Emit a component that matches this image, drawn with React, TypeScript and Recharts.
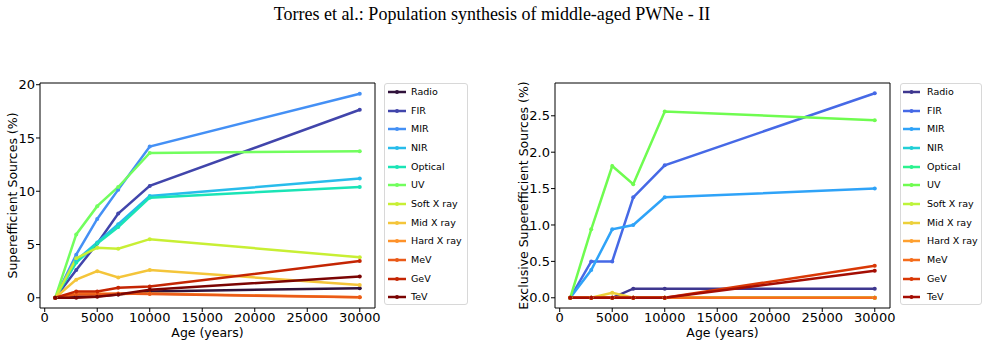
import React from "react";
import { LineChart, Line, XAxis, YAxis, ReferenceLine } from "recharts";

const ages = [1000, 3000, 5000, 7000, 10000, 30000];
const bands = [
	"Radio",
	"FIR",
	"MIR",
	"NIR",
	"Optical",
	"UV",
	"Soft X ray",
	"Mid X ray",
	"Hard X ray",
	"MeV",
	"GeV",
	"TeV",
];

// superefficient sources (%), left panel
const allRadio = [0, 0.1, 0.15, 0.3, 0.6, 0.9];
const allFIR = [0, 2.6, 5.1, 7.9, 10.5, 17.65];
const allMIR = [0, 4.05, 7.4, 10.15, 14.2, 19.15];
const allNIR = [0, 3.5, 5.2, 6.9, 9.55, 11.2];
const allOptical = [0, 3.3, 5.1, 6.65, 9.4, 10.4];
const allUV = [0, 5.95, 8.6, 10.4, 13.6, 13.75];
const allSoftX = [0, 3.7, 4.7, 4.6, 5.5, 3.8];
const allMidX = [0, 1.7, 2.5, 1.9, 2.6, 1.2];
const allHardX = [0, 0.4, 0.4, 0.35, 0.4, 0.05];
const allMeV = [0, 0.3, 0.3, 0.4, 0.35, 0.05];
const allGeV = [0, 0.6, 0.6, 0.95, 1.05, 3.45];
const allTeV = [0, 0, 0.1, 0.3, 0.75, 2.0];

// exclusive superefficient sources (%), right panel
const exRadio = [0, 0, 0, 0.125, 0.125, 0.125];
const exFIR = [0, 0.5, 0.5, 1.38, 1.82, 2.81];
const exMIR = [0, 0.38, 0.94, 1.0, 1.38, 1.5];
const exNIR = [0, 0, 0, 0, 0, 0];
const exOptical = [0, 0, 0, 0, 0, 0];
const exUV = [0, 0.94, 1.81, 1.56, 2.56, 2.44];
const exSoftX = [0, 0, 0, 0, 0, 0];
const exMidX = [0, 0, 0.07, 0, 0, 0];
const exHardX = [0, 0, 0, 0, 0, 0];
const exMeV = [0, 0, 0, 0, 0, 0];
const exGeV = [0, 0, 0, 0, 0, 0.44];
const exTeV = [0, 0, 0, 0, 0, 0.37];

const xTicks = [0, 5000, 10000, 15000, 20000, 25000, 30000];
const leftYTicks = [0, 5, 10, 15, 20];
const rightYTicks = [0, 0.5, 1, 1.5, 2, 2.5];

const leftColors = [
	"#30123b",
	"#4145ab",
	"#4490f5",
	"#28bceb",
	"#1ae4b6",
	"#72fe5e",
	"#c8ef34",
	"#f4c53a",
	"#fe922a",
	"#ea5a18",
	"#c42503",
	"#7a0403",
];
const rightColors = [
	"#3e378f",
	"#4669e6",
	"#2fa3f8",
	"#22cfd6",
	"#2bf28f",
	"#6ffc50",
	"#bdf43a",
	"#ecd03a",
	"#fea030",
	"#f56d1c",
	"#d93806",
	"#a40d03",
];

const allSeries = [
	allRadio,
	allFIR,
	allMIR,
	allNIR,
	allOptical,
	allUV,
	allSoftX,
	allMidX,
	allHardX,
	allMeV,
	allGeV,
	allTeV,
];
const exSeries = [
	exRadio,
	exFIR,
	exMIR,
	exNIR,
	exOptical,
	exUV,
	exSoftX,
	exMidX,
	exHardX,
	exMeV,
	exGeV,
	exTeV,
];

const buildRows = (series: number[][]) =>
	ages.map((age, i) => {
		const row: Record<string, number> = { age };
		bands.forEach((b, j) => {
			row[b] = series[j][i];
		});
		return row;
	});

const font = "'DejaVu Sans', sans-serif";
const xDomain: [number, number] = [-450, 31450];

const YLabel = (props: any) => {
	const { viewBox, text, dx } = props;
	const x = viewBox.x + dx;
	const y = viewBox.y + viewBox.height / 2;
	return (
		<text
			x={x}
			y={y}
			transform={`rotate(-90 ${x} ${y})`}
			textAnchor="middle"
			dominantBaseline="central"
			fontSize={12.5}
			fontFamily={font}
			fill="#000"
		>
			{text}
		</text>
	);
};

type PanelProps = {
	series: number[][];
	colors: string[];
	yDomain: [number, number];
	yTicks: number[];
	yFormat: (v: number) => string;
	yLabel: string;
	labelDx: number;
	left: number;
	marginLeft: number;
	yWidth: number;
	marginRight: number;
	legendLeft: number;
	legendWidth: number;
	lineStart: number;
	lineEnd: number;
};

const Panel = (p: PanelProps) => {
	const rows = buildRows(p.series);
	return (
		<div style={{ position: "absolute", left: p.left, top: 0 }}>
			<LineChart
				width={494}
				height={345}
				data={rows}
				margin={{ top: 83, right: p.marginRight, bottom: 7, left: p.marginLeft }}
			>
				<XAxis
					dataKey="age"
					type="number"
					domain={xDomain}
					ticks={xTicks}
					allowDataOverflow
					stroke="#000"
					tick={{ fill: "#000", fontSize: 13, fontFamily: font }}
					tickSize={4}
					tickMargin={1}
					height={30}
					label={{
						value: "Age (years)",
						position: "insideBottom",
						offset: 1,
						fill: "#000",
						fontSize: 12.5,
						fontFamily: font,
					}}
				/>
				<YAxis
					type="number"
					domain={p.yDomain}
					ticks={p.yTicks}
					allowDataOverflow
					tickFormatter={p.yFormat}
					stroke="#000"
					tick={{ fill: "#000", fontSize: 13, fontFamily: font }}
					tickSize={4}
					tickMargin={1}
					width={p.yWidth}
					label={<YLabel text={p.yLabel} dx={p.labelDx} />}
				/>
				{/* top and right frame of the axes box */}
				<ReferenceLine y={p.yDomain[1]} stroke="#000" strokeWidth={1} />
				<ReferenceLine x={xDomain[1]} stroke="#000" strokeWidth={1} />
				{bands.map((b, i) => (
					<Line
						key={b}
						type="linear"
						dataKey={b}
						stroke={p.colors[i]}
						strokeWidth={2.5}
						dot={{ r: 2, fill: p.colors[i], stroke: p.colors[i], strokeWidth: 0 }}
						activeDot={false}
						isAnimationActive={false}
					/>
				))}
			</LineChart>
			<div
				style={{
					position: "absolute",
					left: p.legendLeft,
					top: 83,
					width: p.legendWidth,
					height: 222,
					border: "1px solid #d8d8d8",
					borderRadius: 3,
					background: "#fff",
					boxSizing: "border-box",
				}}
			>
				{bands.map((b, i) => (
					<div
						key={b}
						style={{
							position: "absolute",
							left: 0,
							top: 8.2 + i * 18.64 - 6,
							height: 12,
							width: "100%",
						}}
					>
						<svg
							width={p.lineEnd + 2}
							height={12}
							style={{ position: "absolute", left: 0, top: 0 }}
						>
							<line
								x1={p.lineStart}
								x2={p.lineEnd}
								y1={6}
								y2={6}
								stroke={p.colors[i]}
								strokeWidth={2.5}
							/>
							<circle
								cx={(p.lineStart + p.lineEnd) / 2}
								cy={6}
								r={2}
								fill={p.colors[i]}
							/>
						</svg>
						<span
							style={{
								position: "absolute",
								left: 26,
								top: 0,
								lineHeight: "12px",
								fontSize: 9.5,
								fontFamily: font,
								color: "#000",
								whiteSpace: "nowrap",
							}}
						>
							{b}
						</span>
					</div>
				))}
			</div>
		</div>
	);
};

export default function App() {
	return (
		<div
			style={{
				position: "absolute",
				left: 0,
				top: 0,
				width: 988,
				height: 345,
				background: "#fff",
				overflow: "hidden",
			}}
		>
			<div
				style={{
					position: "absolute",
					left: 0,
					top: 4,
					width: 984,
					textAlign: "center",
					fontFamily: "'Liberation Serif', serif",
					fontSize: 18,
					lineHeight: "20px",
					color: "#000",
				}}
			>
				Torres et al.: Population synthesis of middle-aged PWNe - II
			</div>
			<Panel
				series={allSeries}
				colors={leftColors}
				yDomain={[-0.96, 20.16]}
				yTicks={leftYTicks}
				yFormat={(v) => String(v)}
				yLabel="Superefficient Sources (%)"
				labelDx={2.5}
				left={0}
				marginLeft={10}
				yWidth={30}
				marginRight={119}
				legendLeft={384}
				legendWidth={84}
				lineStart={3}
				lineEnd={21}
			/>
			<Panel
				series={exSeries}
				colors={rightColors}
				yDomain={[-0.1405, 2.9505]}
				yTicks={rightYTicks}
				yFormat={(v) => v.toFixed(1)}
				yLabel="Exclusive Superefficient Sources (%)"
				labelDx={8}
				left={494}
				marginLeft={21}
				yWidth={40}
				marginRight={98}
				legendLeft={406}
				legendWidth={82}
				lineStart={2}
				lineEnd={19}
			/>
		</div>
	);
}
